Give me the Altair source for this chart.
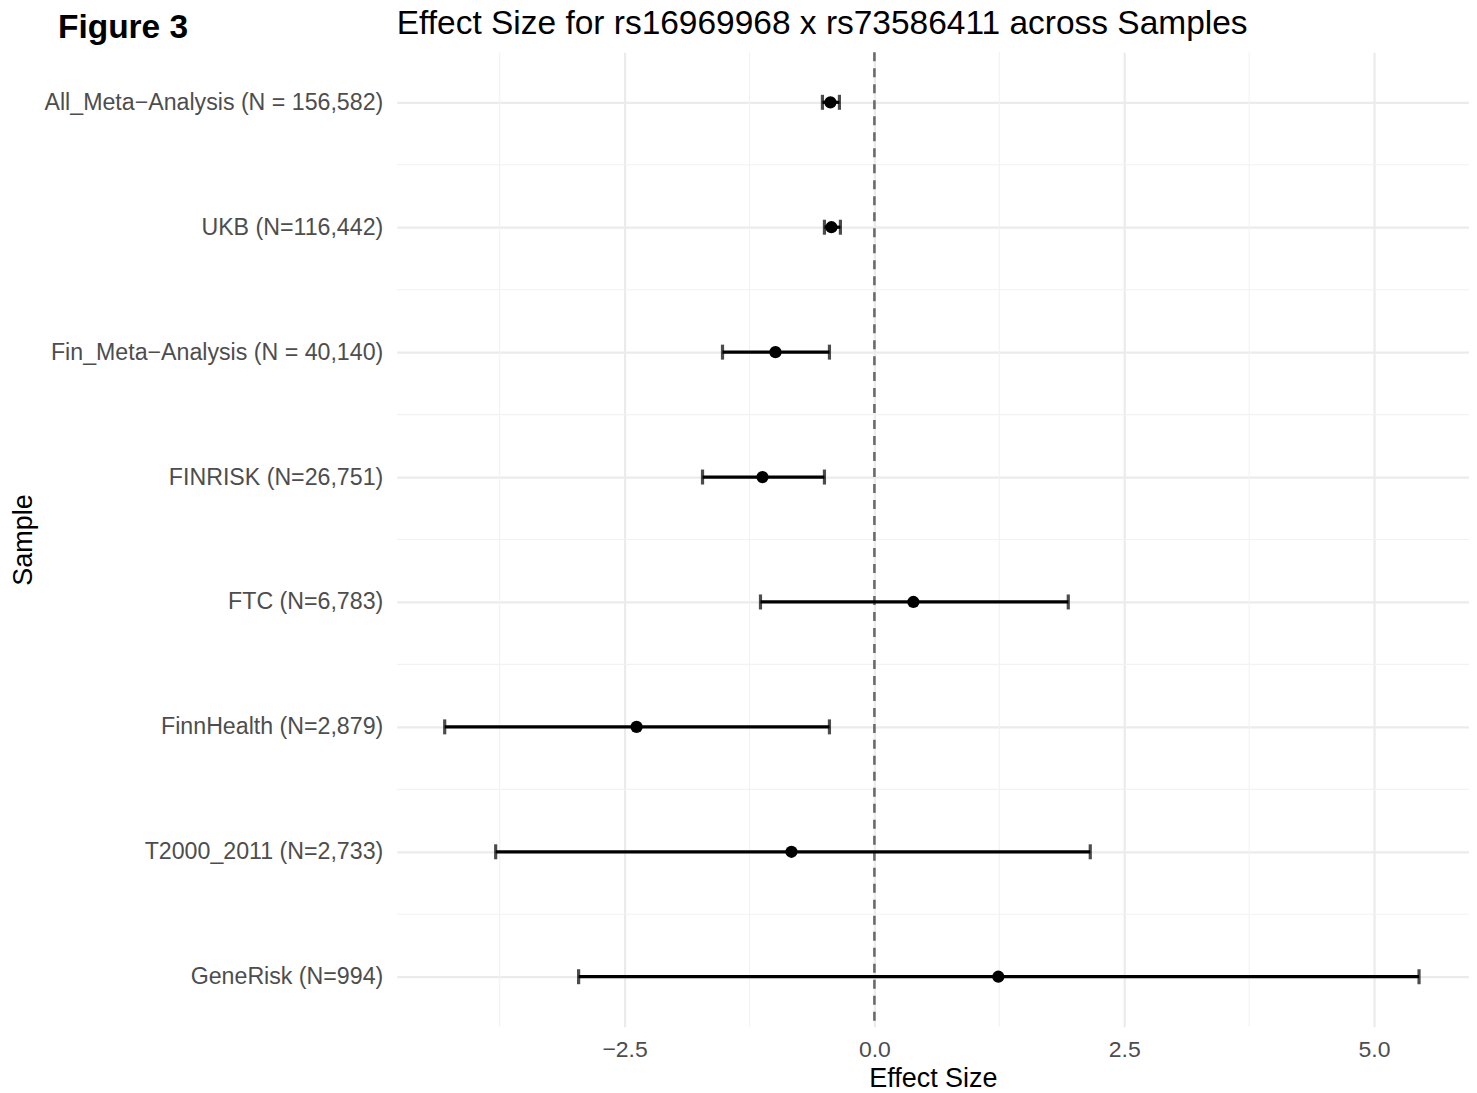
import altair as alt
import pandas as pd

samples = [
    "All_Meta\u2212Analysis (N = 156,582)",
    "UKB (N=116,442)",
    "Fin_Meta\u2212Analysis (N = 40,140)",
    "FINRISK (N=26,751)",
    "FTC (N=6,783)",
    "FinnHealth (N=2,879)",
    "T2000_2011 (N=2,733)",
    "GeneRisk (N=994)",
]
effect = [-0.44, -0.43, -0.99, -1.12, 0.39, -2.38, -0.83, 1.24]
lower = [-0.52, -0.50, -1.52, -1.72, -1.14, -4.30, -3.79, -2.96]
upper = [-0.35, -0.34, -0.45, -0.50, 1.94, -0.45, 2.16, 5.45]
x_major = [-2.5, 0.0, 2.5, 5.0]
x_minor = [-3.75, -1.25, 1.25, 3.75]
ref_line = [0.0]
main_title = ["Effect Size for rs16969968 x rs73586411 across Samples"]
fig_label = ["Figure 3"]

FONT = "Liberation Sans"
df = pd.DataFrame({"sample": samples, "effect": effect, "lower": lower, "upper": upper})
minor_y = pd.DataFrame({"sample": samples[:-1]})
minor_x = pd.DataFrame({"v": x_minor})
ref = pd.DataFrame({"v": ref_line})

x_scale = alt.Scale(domain=[-4.78, 5.95], nice=False, zero=False)
y_scale = alt.Scale(type="point", domain=samples, padding=0.4)

x_axis = alt.Axis(
    values=x_major, format=".1f", title="Effect Size", grid=True,
    gridColor="#ebebeb", gridWidth=2.2, domain=False, ticks=False,
    labelFont=FONT, labelFontSize=23, labelColor="#4d4d4d", labelPadding=12,
    titleFont=FONT, titleFontSize=27, titleFontWeight="normal", titleColor="#000000",
    titleY=52, titleBaseline="middle",
)
y_axis = alt.Axis(
    title="Sample", grid=True, gridColor="#ebebeb", gridWidth=2.2,
    domain=False, ticks=False, labelLimit=0,
    labelFont=FONT, labelFontSize=23.2, labelColor="#4d4d4d", labelPadding=14,
    titleFont=FONT, titleFontSize=27, titleFontWeight="normal", titleColor="#000000",
    titleX=-373, titleY=487.5, titleBaseline="middle", titleAlign="center", titleAngle=-90,
)

def X(field):
    return alt.X(field, type="quantitative", scale=x_scale, axis=x_axis)

def Y():
    return alt.Y("sample:N", scale=y_scale, axis=y_axis, sort=samples)

minor_v = alt.Chart(minor_x).mark_rule(color="#f2f2f2", strokeWidth=1.1).encode(x=X("v"))
minor_h = alt.Chart(minor_y).mark_rule(color="#f2f2f2", strokeWidth=1.1, yOffset=62.5).encode(y=Y())

zero = alt.Chart(ref).mark_rule(color="#6b6b6b", strokeWidth=2.6, strokeDash=[9, 7]).encode(x=X("v"))

bars = alt.Chart(df).mark_rule(color="black", strokeWidth=3.2).encode(
    x=X("lower"), x2="upper", y=Y()
)
cap_lo = alt.Chart(df).mark_tick(color="black", thickness=3.2, size=15, orient="vertical").encode(
    x=X("lower"), y=Y()
)
cap_hi = alt.Chart(df).mark_tick(color="black", thickness=3.2, size=15, orient="vertical").encode(
    x=X("upper"), y=Y()
)
pts = alt.Chart(df).mark_circle(color="black", size=150, opacity=1).encode(
    x=X("effect"), y=Y()
)

title_txt = alt.Chart(pd.DataFrame({"t": main_title})).mark_text(
    font=FONT, fontSize=33.5, color="#000000", align="left", baseline="alphabetic"
).encode(text="t:N", x=alt.value(0), y=alt.value(-18))

fig_txt = alt.Chart(pd.DataFrame({"t": fig_label})).mark_text(
    font=FONT, fontSize=33.5, fontWeight="bold", color="#000000", align="left", baseline="alphabetic"
).encode(text="t:N", x=alt.value(-339), y=alt.value(-14))

chart = alt.layer(
    minor_v, minor_h, zero, bars, cap_lo, cap_hi, pts, title_txt, fig_txt
).properties(
    width=1073, height=975,
    autosize=alt.AutoSizeParams(type="none"),
    padding={"left": 389, "top": 44, "right": 0, "bottom": 68},
).configure(background="white").configure_view(stroke=None)

chart.save("out.html", embed_options={"renderer": "svg", "actions": False})
